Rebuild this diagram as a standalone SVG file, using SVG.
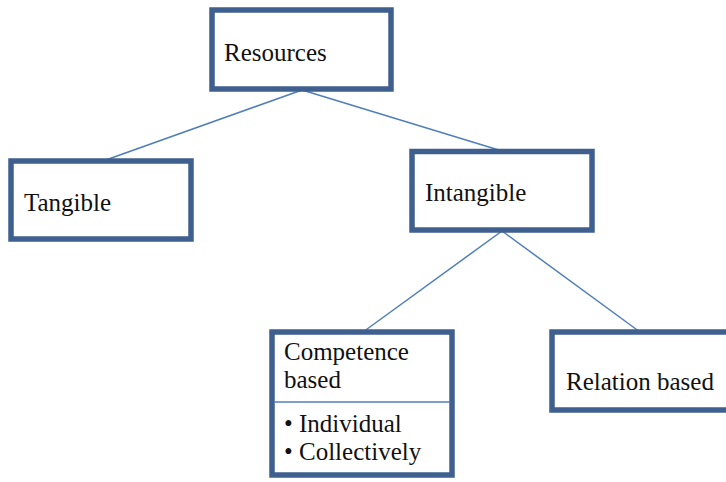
<svg xmlns="http://www.w3.org/2000/svg" width="726" height="482" viewBox="0 0 726 482">
<style>
.box{fill:#ffffff;stroke:#3f5f8e;stroke-width:5.5}
.lbl{font-family:"Liberation Serif","Times New Roman",serif;font-size:25px;fill:#111111}
.con{stroke:#4f7ebb;stroke-width:1.5;fill:none}
.div{stroke:#4f7ebb;stroke-width:1.5}
</style>
<rect width="726" height="482" fill="#ffffff"/>
<g id="connectors">
<line class="con" x1="302" y1="90" x2="103" y2="161"/>
<line class="con" x1="302" y1="90" x2="502" y2="151"/>
<line class="con" x1="502" y1="231" x2="363" y2="332"/>
<line class="con" x1="502" y1="231" x2="640" y2="332"/>
</g>
<g id="resources">
<rect class="box" x="212" y="10" width="179" height="79"/>
<text class="lbl" x="224" y="61">Resources</text>
</g>
<g id="tangible">
<rect class="box" x="11" y="161" width="180" height="78"/>
<text class="lbl" x="24" y="211">Tangible</text>
</g>
<g id="intangible">
<rect class="box" x="412" y="151.5" width="180" height="78.5"/>
<text class="lbl" x="425" y="201">Intangible</text>
</g>
<g id="competence">
<rect class="box" x="272" y="332" width="180" height="143"/>
<line class="div" x1="274" y1="402" x2="450" y2="402"/>
<text class="lbl" x="284" y="360">Competence</text>
<text class="lbl" x="284" y="388">based</text>
<text class="lbl" x="284" y="432">• Individual</text>
<text class="lbl" x="284" y="460">• Collectively</text>
</g>
<g id="relation">
<rect class="box" x="552" y="332" width="180" height="78"/>
<text class="lbl" x="566" y="390">Relation based</text>
</g>
</svg>
